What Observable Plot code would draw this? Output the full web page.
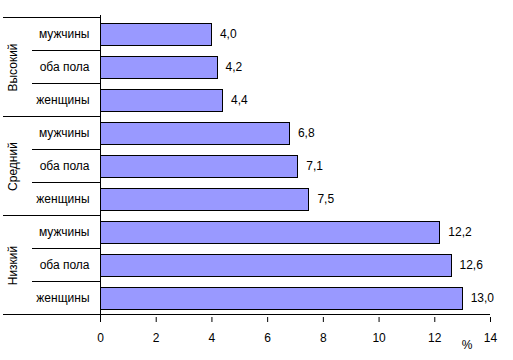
<!DOCTYPE html>
<html><head><meta charset="utf-8">
<script src="https://cdn.jsdelivr.net/npm/d3@7"></script>
<script src="https://cdn.jsdelivr.net/npm/@observablehq/plot@0.6"></script>
<style>
body{margin:0;background:#fff;}
svg{font-family:"Liberation Sans",Arial,sans-serif;}
</style>
</head><body><div id="chart"></div>
<script>
const groups = ["Высокий", "Средний", "Низкий"];
const sexes = ["мужчины", "оба пола", "женщины"];
const values = [[4.0, 4.2, 4.4], [6.8, 7.1, 7.5], [12.2, 12.6, 13.0]];
const xTicks = [0, 2, 4, 6, 8, 10, 12, 14];
const unit = "%";

const rows = groups.flatMap((g, i) => sexes.map((s, j) => ({key: g + "|" + s, group: g, sex: s, value: values[i][j]})));
const fmt = v => v.toFixed(1).replace(".", ",");

const plot = Plot.plot({
  width: 513, height: 360,
  marginLeft: 100, marginRight: 23, marginTop: 15, marginBottom: 43,
  style: {fontFamily: '"Liberation Sans", Arial, sans-serif', fontSize: "12px", color: "#000", background: "#fff"},
  x: {domain: [0, 14], ticks: xTicks, tickFormat: d => String(d), tickSize: 5, tickPadding: 11, label: null},
  y: {domain: rows.map(d => d.key), paddingInner: 0.32, paddingOuter: 0.16, tickSize: 0, tickPadding: 11,
      tickFormat: k => k.split("|")[1], label: null},
  marks: [
    Plot.barX(rows, {x: "value", y: "key", fill: "#9999FF", stroke: "#000", strokeWidth: 1, shapeRendering: "crispEdges"}),
    Plot.text(rows, {x: "value", y: "key", text: d => fmt(d.value), textAnchor: "start", dx: 8, fill: "#000"}),
    Plot.text(groups, {y: g => g + "|" + sexes[1], text: d => d, frameAnchor: "left", textAnchor: "middle", dx: -87, rotate: -90, fill: "#000"}),
    Plot.ruleX([0], {stroke: "#000", shapeRendering: "crispEdges"}),
    Plot.text([unit], {text: d => d, frameAnchor: "bottom-right", dx: -18, dy: 31, fill: "#000"})
  ]
});
document.getElementById("chart").appendChild(plot);

// separators of the multi-level category axis, placed with Plot's own scales
const ys = plot.scale("y"), xs = plot.scale("x");
const gap = (ys.step - ys.bandwidth) / 2;
const x0 = xs.apply(0), xEnd = xs.apply(xTicks[xTicks.length - 1]);
const svg = d3.select(plot);
const g = svg.append("g").attr("stroke", "#000").attr("shape-rendering", "crispEdges");
rows.forEach((r, k) => {
  const top = ys.apply(r.key) - gap;
  const groupStart = k % sexes.length === 0;
  g.append("line").attr("x1", groupStart ? 3 : 32).attr("x2", x0).attr("y1", top).attr("y2", top);
});
const last = rows[rows.length - 1];
const bottom = ys.apply(last.key) + ys.bandwidth + gap;
g.append("line").attr("x1", 3).attr("x2", xEnd).attr("y1", bottom).attr("y2", bottom);
</script>
</body></html>
